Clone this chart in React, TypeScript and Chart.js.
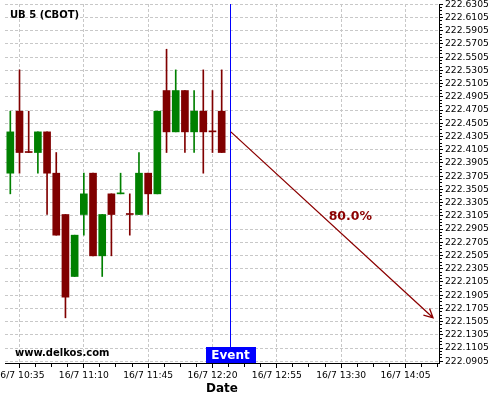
import React, { useEffect, useRef } from 'react';
import { Chart, registerables } from 'chart.js';

Chart.register(...registerables);

// ---- data ----
const TIMES = ['10:30', '10:35', '10:40', '10:45', '10:50', '10:55', '11:00', '11:05', '11:10', '11:15', '11:20', '11:25',
  '11:30', '11:35', '11:40', '11:45', '11:50', '11:55', '12:00', '12:05', '12:10', '12:15', '12:20', '12:25'];
const OPENS = [222.375, 222.46875, 222.40625, 222.40625, 222.4375, 222.375, 222.3125, 222.21875, 222.3125, 222.375, 222.25, 222.34375,
  222.34375, 222.3125, 222.3125, 222.375, 222.34375, 222.5, 222.4375, 222.5, 222.4375, 222.46875, 222.4375, 222.46875];
const HIGHS = [222.46875, 222.53125, 222.46875, 222.4375, 222.4375, 222.40625, 222.3125, 222.28125, 222.375, 222.375, 222.3125, 222.34375,
  222.375, 222.34375, 222.40625, 222.375, 222.46875, 222.5625, 222.53125, 222.5, 222.5, 222.53125, 222.5, 222.53125];
const LOWS = [222.34375, 222.375, 222.40625, 222.375, 222.3125, 222.28125, 222.15625, 222.21875, 222.28125, 222.25, 222.21875, 222.25,
  222.34375, 222.28125, 222.3125, 222.3125, 222.34375, 222.40625, 222.4375, 222.40625, 222.40625, 222.375, 222.40625, 222.40625];
const CLOSES = [222.4375, 222.40625, 222.40625, 222.4375, 222.375, 222.28125, 222.1875, 222.28125, 222.34375, 222.25, 222.3125, 222.3125,
  222.34375, 222.3125, 222.375, 222.34375, 222.46875, 222.4375, 222.5, 222.4375, 222.46875, 222.4375, 222.4375, 222.40625];

const X_TICK_LABELS = ['10:35', '11:10', '11:45', '12:20', '12:55', '13:30', '14:05'];
const DATE_PREFIX = '16/7 ';
const Y_TICK_LABELS = ['222.0905', '222.1105', '222.1305', '222.1505', '222.1705', '222.1905', '222.2105', '222.2305',
  '222.2505', '222.2705', '222.2905', '222.3105', '222.3305', '222.3505', '222.3705', '222.3905', '222.4105', '222.4305',
  '222.4505', '222.4705', '222.4905', '222.5105', '222.5305', '222.5505', '222.5705', '222.5905', '222.6105', '222.6305'];

const TITLE = 'UB 5 (CBOT)';
const WATERMARK = 'www.delkos.com';
const AXIS_TITLE = 'Date';
const EVENT_TIME = '12:30';
const EVENT_LABEL = 'Event';
const FORECAST_START_TIME = '12:30';
const FORECAST_START_PRICE = 222.4375;
const FORECAST_END_TIME = '14:20';
const FORECAST_END_PRICE = 222.15625;
const FORECAST_LABEL = '80.0%';
const FORECAST_LABEL_TIME = '13:35';
const FORECAST_LABEL_PRICE = 222.309;

// ---- helpers / style ----
const toMin = (s: string) => {
  const [h, m] = s.split(':').map(Number);
  return h * 60 + m;
};
const X_MIN = 627.11;
const X_MAX = 863.24;
const Y_MIN = 222.0879;
const Y_MAX = 222.6309;
const FONT = 'DejaVu Sans';
const UP = '#008000';
const DOWN = '#800000';
const GRID = '#c8c8c8';
const ARROW = '#8b0000';

const X_TICK_VALUES = X_TICK_LABELS.map(toMin);
const Y_TICK_VALUES = Y_TICK_LABELS.map(Number);

const candleColors = TIMES.map((_, i) => {
  if (CLOSES[i] > OPENS[i]) return UP;
  if (CLOSES[i] < OPENS[i]) return DOWN;
  return i > 0 && CLOSES[i] > CLOSES[i - 1] ? UP : DOWN;
});

const overlayPlugin = {
  id: 'overlay',
  afterDraw(chart: any) {
    const { ctx, chartArea, scales } = chart;
    const xs = scales.x;
    const ys = scales.y;
    ctx.save();
    // minor ticks
    ctx.strokeStyle = '#000';
    ctx.lineWidth = 1;
    ctx.beginPath();
    const xStep = (X_TICK_VALUES[1] - X_TICK_VALUES[0]) / 4;
    for (let i = 0; i < X_TICK_VALUES.length; i++) {
      for (let j = 1; j < 4; j++) {
        const v = X_TICK_VALUES[i] + j * xStep;
        if (v > X_MAX) continue;
        const px = Math.round(xs.getPixelForValue(v) - 0.5) + 0.5;
        ctx.moveTo(px, chartArea.bottom + 1);
        ctx.lineTo(px, chartArea.bottom + 4);
      }
    }
    const yStep = (Y_TICK_VALUES[1] - Y_TICK_VALUES[0]) / 4;
    for (let i = 0; i < Y_TICK_VALUES.length; i++) {
      for (let j = 1; j < 4; j++) {
        const v = Y_TICK_VALUES[i] + j * yStep;
        if (v > Y_MAX) continue;
        const py = Math.round(ys.getPixelForValue(v) - 0.5) + 0.5;
        ctx.moveTo(chartArea.right + 1, py);
        ctx.lineTo(chartArea.right + 3, py);
      }
    }
    ctx.stroke();

    // event line
    const ex = Math.floor(xs.getPixelForValue(toMin(EVENT_TIME))) + 0.5;
    ctx.strokeStyle = '#0000ff';
    ctx.beginPath();
    ctx.moveTo(ex, chartArea.top);
    ctx.lineTo(ex, chartArea.bottom);
    ctx.stroke();

    // forecast arrow
    const x1 = xs.getPixelForValue(toMin(FORECAST_START_TIME));
    const y1 = ys.getPixelForValue(FORECAST_START_PRICE);
    const x2 = xs.getPixelForValue(toMin(FORECAST_END_TIME));
    const y2 = ys.getPixelForValue(FORECAST_END_PRICE);
    ctx.strokeStyle = ARROW;
    ctx.lineWidth = 1.3;
    ctx.beginPath();
    ctx.moveTo(x1, y1);
    ctx.lineTo(x2, y2);
    const ang = Math.atan2(y2 - y1, x2 - x1);
    const hl = 10;
    const ha = (27 * Math.PI) / 180;
    ctx.moveTo(x2 - hl * Math.cos(ang - ha), y2 - hl * Math.sin(ang - ha));
    ctx.lineTo(x2, y2);
    ctx.lineTo(x2 - hl * Math.cos(ang + ha), y2 - hl * Math.sin(ang + ha));
    ctx.stroke();

    // forecast label
    ctx.fillStyle = ARROW;
    ctx.font = `bold 12.5px "${FONT}"`;
    ctx.textAlign = 'center';
    ctx.textBaseline = 'middle';
    ctx.fillText(FORECAST_LABEL, xs.getPixelForValue(toMin(FORECAST_LABEL_TIME)), ys.getPixelForValue(FORECAST_LABEL_PRICE));

    // event box
    ctx.font = `bold 12px "${FONT}"`;
    const tw = ctx.measureText(EVENT_LABEL).width;
    const bw = Math.round(tw + 12);
    const bh = 16;
    const bx = Math.round(ex - bw / 2);
    const by = chartArea.bottom - bh;
    ctx.fillStyle = '#0000ff';
    ctx.fillRect(bx, by, bw, bh);
    ctx.fillStyle = '#ffffff';
    ctx.fillText(EVENT_LABEL, ex, by + bh / 2 + 1);

    // title and watermark
    ctx.fillStyle = '#000';
    ctx.textAlign = 'left';
    ctx.font = `bold 10px "${FONT}"`;
    ctx.fillText(TITLE, chartArea.left + 5, chartArea.top + 11);
    ctx.fillText(WATERMARK, chartArea.left + 10, chartArea.bottom - 10);
    ctx.restore();
  },
};

export default function App() {
  const ref = useRef<HTMLCanvasElement | null>(null);
  useEffect(() => {
    document.body.style.margin = '0';
    const canvas = ref.current;
    if (!canvas) return;
    const wicks = TIMES.map((t, i) => ({ x: toMin(t), y: [LOWS[i], HIGHS[i]] }));
    const bodies = TIMES.map((t, i) => ({ x: toMin(t), y: [OPENS[i], CLOSES[i]] }));
    const chart = new Chart(canvas, {
      type: 'bar',
      data: {
        datasets: [
          {
            label: 'body',
            data: bodies as any,
            backgroundColor: candleColors,
            borderWidth: 0,
            barThickness: 7,
            minBarLength: 1,
            grouped: false,
          } as any,
          {
            label: 'wick',
            data: wicks as any,
            backgroundColor: candleColors,
            borderWidth: 0,
            barThickness: 1,
            grouped: false,
          } as any,
        ],
      },
      options: {
        responsive: false,
        animation: false,
        events: [],
        layout: { padding: { left: 5, top: 4, right: 0, bottom: 0 } },
        plugins: { legend: { display: false }, tooltip: { enabled: false } },
        scales: {
          x: {
            type: 'linear',
            position: 'bottom',
            min: X_MIN,
            max: X_MAX,
            offset: false,
            grid: { offset: false, color: GRID, lineWidth: 1, tickLength: 5, tickColor: '#000' },
            border: { display: true, color: '#000', width: 1, dash: [3, 2] },
            ticks: {
              autoSkip: false,
              maxRotation: 0,
              minRotation: 0,
              padding: 2,
              color: '#000',
              font: { family: FONT, size: 9.2 },
              callback: (_v: any, i: number) => DATE_PREFIX + X_TICK_LABELS[i],
            },
            afterBuildTicks: (scale: any) => {
              scale.ticks = X_TICK_VALUES.map((v) => ({ value: v }));
            },
            afterFit: (scale: any) => {
              scale.height = 37;
              scale.paddingLeft = 0;
              scale.paddingRight = 0;
            },
            title: {
              display: true,
              text: AXIS_TITLE,
              color: '#000',
              font: { family: FONT, size: 12, weight: 'bold' },
              padding: { top: 0, bottom: 4 },
            },
          } as any,
          y: {
            type: 'linear',
            position: 'right',
            min: Y_MIN,
            max: Y_MAX,
            grid: { color: GRID, lineWidth: 1, tickLength: 4, tickColor: '#000' },
            border: { display: true, color: '#000', width: 1, dash: [3, 2] },
            ticks: {
              autoSkip: false,
              padding: 2,
              color: '#000',
              font: { family: FONT, size: 9.2 },
              callback: (_v: any, i: number) => Y_TICK_LABELS[i],
            },
            afterBuildTicks: (scale: any) => {
              scale.ticks = Y_TICK_VALUES.map((v) => ({ value: v }));
            },
            afterFit: (scale: any) => {
              scale.width = 61;
              scale.paddingTop = 0;
              scale.paddingBottom = 0;
            },
          } as any,
        },
      },
      plugins: [overlayPlugin],
    });
    return () => chart.destroy();
  }, []);
  return (
    <div style={{ width: 500, height: 400, background: '#fff' }}>
      <canvas ref={ref} width={500} height={400} style={{ display: 'block' }} />
    </div>
  );
}
